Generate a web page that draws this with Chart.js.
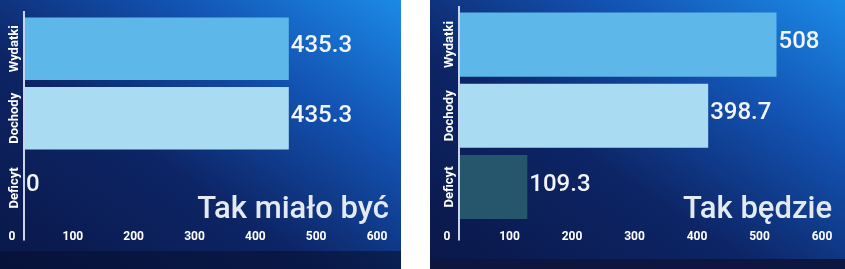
<!DOCTYPE html>
<html>
<head>
<meta charset="utf-8">
<script src="https://cdn.jsdelivr.net/npm/chart.js@4"></script>
<style>
  html, body { margin: 0; padding: 0; background: #ffffff; width: 845px; height: 269px; overflow: hidden; }
  .panel { position: absolute; top: 0; height: 269px; overflow: hidden;
    background: linear-gradient(to top right, #0a1748 0%, #0d2566 40%, #1354b4 72%, #1c8ae6 100%); }
  #leftPanel { left: 0; width: 401px; }
  #rightPanel { left: 430px; width: 415px; }
  .panel canvas { position: absolute; left: 0; top: 0; }
  .title { position: absolute; font-family: Roboto, sans-serif; font-weight: 500; font-size: 31px;
    line-height: 31px; color: #e4eaf4; white-space: nowrap; top: 192px; }
  .strip { position: absolute; left: 0; right: 0; bottom: 0; }
  #leftPanel .strip { height: 18px; background: rgba(6, 14, 46, 0.55); }
  #rightPanel .strip { height: 10px; background: #0c163f; }
</style>
</head>
<body>
<div class="panel" id="leftPanel">
  <canvas id="leftChart" width="401" height="269"></canvas>
  <div class="title" style="right: 12px;">Tak miało być</div>
  <div class="strip"></div>
</div>
<div class="panel" id="rightPanel">
  <canvas id="rightChart" width="415" height="269"></canvas>
  <div class="title" style="right: 13px;">Tak będzie</div>
  <div class="strip"></div>
</div>
<script>
const categories = ['Wydatki', 'Dochody', 'Deficyt'];
const plannedValues = [435.3, 435.3, 0];
const actualValues = [508, 398.7, 109.3];
const xTicks = [0, 100, 200, 300, 400, 500, 600];
const barColors = ['#5db7e8', '#a9dbf3', '#26566b'];

// axis line, rotated category names and value labels next to the bars
const barLabels = {
  id: 'barLabels',
  afterDatasetsDraw(chart) {
    const ctx = chart.ctx;
    const area = chart.chartArea;
    const yScale = chart.scales.y;
    const meta = chart.getDatasetMeta(0);
    ctx.save();

    ctx.strokeStyle = '#c9d5ea';
    ctx.lineWidth = 2;
    ctx.beginPath();
    ctx.moveTo(area.left, area.top - 3);
    ctx.lineTo(area.left, area.bottom + 18);
    ctx.stroke();

    ctx.fillStyle = '#ffffff';
    ctx.font = 'bold 13px Roboto';
    ctx.textAlign = 'center';
    ctx.textBaseline = 'middle';
    categories.forEach((cat, i) => {
      const y = yScale.getPixelForValue(i);
      ctx.save();
      ctx.translate(area.left - 9, y);
      ctx.rotate(-Math.PI / 2);
      ctx.fillText(cat, 0, 0);
      ctx.restore();
    });

    ctx.font = '500 24px Roboto';
    ctx.textAlign = 'left';
    ctx.textBaseline = 'alphabetic';
    ctx.fillStyle = '#f2f5fa';
    meta.data.forEach((bar, i) => {
      const value = chart.data.datasets[0].data[i];
      ctx.fillText(String(value), bar.x + 2, bar.y + 3.5);
    });
    ctx.restore();
  }
};

function makeChart(canvasId, values, padding) {
  const ctx = document.getElementById(canvasId).getContext('2d');
  return new Chart(ctx, {
    type: 'bar',
    data: {
      labels: categories,
      datasets: [{
        data: values,
        backgroundColor: barColors,
        borderWidth: 0,
        categoryPercentage: 1,
        barPercentage: 0.9
      }]
    },
    options: {
      indexAxis: 'y',
      responsive: false,
      animation: false,
      layout: { padding: padding },
      plugins: { legend: { display: false }, tooltip: { enabled: false } },
      scales: {
        y: { display: false },
        x: {
          min: 0,
          max: 600,
          afterBuildTicks: scale => { scale.ticks = xTicks.map(v => ({ value: v })); },
          afterFit: scale => { scale.paddingLeft = 0; scale.paddingRight = 0; },
          grid: { display: false, drawTicks: false },
          border: { display: false },
          ticks: {
            color: '#ffffff',
            font: { family: 'Roboto', weight: 'bold', size: 12 },
            padding: 7,
            labelOffset: -12,
            maxRotation: 0,
            autoSkip: false
          }
        }
      }
    },
    plugins: [barLabels]
  });
}

makeChart('leftChart', plannedValues, { left: 24, right: 12, top: 14, bottom: 18 });
makeChart('rightChart', actualValues, { left: 29, right: 11, top: 9, bottom: 18 });
</script>
</body>
</html>
